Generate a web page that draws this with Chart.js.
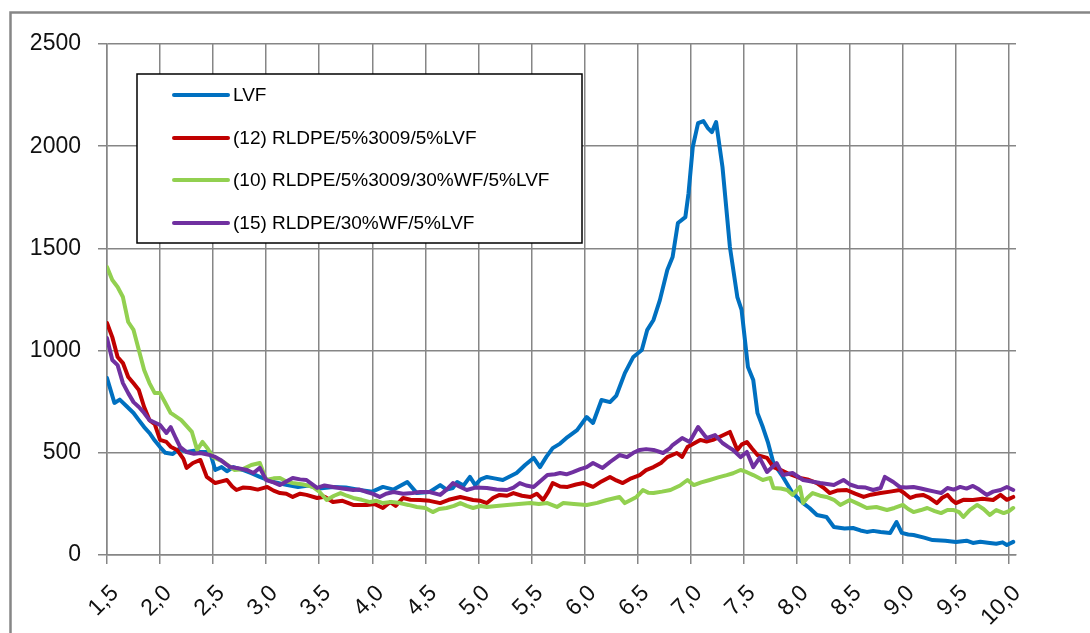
<!DOCTYPE html>
<html>
<head>
<meta charset="utf-8">
<script src="https://cdn.jsdelivr.net/npm/chart.js@4/dist/chart.umd.min.js"></script>
<style>
  html, body { margin: 0; padding: 0; background: #fff; overflow: hidden; }
  #wrap { width: 1090px; height: 633px; position: relative; }
</style>
</head>
<body>
<div id="wrap"><canvas id="c"></canvas></div>
<script>
// Axis ticks
const xTicks = [1.5, 2.0, 2.5, 3.0, 3.5, 4.0, 4.5, 5.0, 5.5, 6.0, 6.5, 7.0, 7.5, 8.0, 8.5, 9.0, 9.5, 10.0];
const yTicks = [0, 500, 1000, 1500, 2000, 2500];

// Series names and colours
const seriesNames = [
  'LVF',
  '(12) RLDPE/5%3009/5%LVF',
  '(10) RLDPE/5%3009/30%WF/5%LVF',
  '(15) RLDPE/30%WF/5%LVF'
];
const seriesColors = ['#0070C0', '#C00000', '#92D050', '#7030A0'];

// Measured curves: [x, value]
const lvf = [
  [1.50,866],[1.57,744],[1.62,760],[1.68,730],[1.75,695],[1.80,660],[1.85,626],[1.90,597],[1.95,560],
  [2.00,528],[2.05,500],[2.12,494],[2.18,520],[2.25,504],[2.32,510],[2.38,504],[2.47,504],[2.52,416],
  [2.58,430],[2.63,410],[2.69,430],[2.78,416],[2.86,400],[2.94,382],[3.00,370],[3.07,357],[3.13,350],
  [3.20,342],[3.30,333],[3.40,340],[3.50,325],[3.63,333],[3.75,330],[3.88,318],[4.00,310],[4.10,333],
  [4.20,320],[4.33,357],[4.42,303],[4.54,308],[4.64,342],[4.70,320],[4.76,328],[4.80,357],[4.86,340],
  [4.92,382],[4.97,342],[5.02,370],[5.08,382],[5.15,375],[5.23,367],[5.30,385],[5.36,401],[5.44,440],
  [5.52,475],[5.58,430],[5.64,480],[5.70,523],[5.77,545],[5.84,577],[5.93,611],[6.02,675],[6.08,646],
  [6.16,758],[6.24,748],[6.30,780],[6.38,890],[6.46,969],[6.54,1003],[6.59,1100],[6.65,1150],[6.71,1247],
  [6.78,1394],[6.83,1458],[6.88,1624],[6.95,1653],[6.98,1770],[7.02,1996],[7.07,2113],[7.12,2123],
  [7.16,2090],[7.20,2069],[7.24,2118],[7.30,1898],[7.37,1507],[7.44,1262],[7.48,1199],[7.54,920],
  [7.59,856],[7.63,694],[7.68,626],[7.73,548],[7.78,450],[7.87,382],[7.96,303],[8.06,254],[8.12,230],
  [8.19,196],[8.28,186],[8.35,137],[8.45,130],[8.53,132],[8.60,120],[8.66,113],[8.72,118],[8.79,113],
  [8.88,108],[8.94,161],[8.99,108],[9.05,100],[9.10,98],[9.20,85],[9.28,73],[9.40,70],[9.50,64],
  [9.60,70],[9.66,59],[9.73,65],[9.80,60],[9.88,55],[9.94,62],[9.98,49],[10.04,64]
];
const rldpe12 = [
  [1.50,1135],[1.55,1066],[1.60,969],[1.65,939],[1.70,871],[1.75,840],[1.80,807],[1.85,724],[1.90,660],
  [1.95,640],[2.00,563],[2.06,553],[2.10,530],[2.16,514],[2.22,470],[2.25,426],[2.31,450],[2.38,465],
  [2.44,382],[2.52,352],[2.58,360],[2.63,367],[2.68,335],[2.72,318],[2.78,330],[2.85,328],[2.92,320],
  [3.01,333],[3.07,315],[3.13,303],[3.19,300],[3.25,284],[3.32,300],[3.38,294],[3.48,279],[3.55,285],
  [3.63,259],[3.72,265],[3.82,245],[3.95,245],[4.02,250],[4.10,230],[4.17,259],[4.22,240],[4.29,279],
  [4.36,270],[4.45,269],[4.54,265],[4.64,254],[4.72,270],[4.83,284],[4.90,275],[4.95,269],[5.02,265],
  [5.08,254],[5.14,280],[5.20,294],[5.27,290],[5.33,303],[5.41,290],[5.49,284],[5.55,300],[5.61,269],
  [5.66,310],[5.70,352],[5.77,335],[5.84,333],[5.92,345],[5.99,352],[6.08,333],[6.16,360],[6.24,382],
  [6.30,365],[6.36,352],[6.44,375],[6.52,391],[6.58,415],[6.65,430],[6.72,450],[6.78,479],[6.87,499],
  [6.92,480],[6.97,528],[7.03,545],[7.09,563],[7.15,555],[7.21,563],[7.28,580],[7.37,602],[7.44,514],
  [7.48,540],[7.53,553],[7.58,520],[7.63,489],[7.72,475],[7.78,430],[7.85,415],[7.91,401],[8.03,377],
  [8.10,370],[8.19,352],[8.25,330],[8.31,303],[8.38,315],[8.47,318],[8.55,300],[8.63,284],[8.70,295],
  [8.79,303],[8.88,310],[8.97,318],[9.02,300],[9.07,279],[9.13,290],[9.19,294],[9.25,280],[9.32,254],
  [9.37,280],[9.42,294],[9.46,270],[9.50,254],[9.57,270],[9.66,269],[9.75,275],[9.85,269],[9.92,294],
  [9.98,270],[10.04,284]
];
const rldpe10 = [
  [1.50,1409],[1.55,1345],[1.60,1311],[1.65,1262],[1.70,1140],[1.75,1101],[1.80,1003],[1.85,905],
  [1.90,841],[1.95,792],[2.00,792],[2.05,744],[2.10,695],[2.20,660],[2.30,602],[2.35,514],[2.40,553],
  [2.45,520],[2.50,479],[2.60,455],[2.70,416],[2.78,420],[2.86,440],[2.94,450],[3.00,367],[3.07,375],
  [3.13,377],[3.19,360],[3.25,352],[3.35,345],[3.44,333],[3.50,310],[3.57,269],[3.64,290],[3.70,303],
  [3.76,290],[3.82,279],[3.90,270],[3.98,259],[4.04,265],[4.10,254],[4.18,260],[4.26,254],[4.34,245],
  [4.42,235],[4.50,230],[4.57,210],[4.63,225],[4.70,230],[4.77,240],[4.83,254],[4.89,240],[4.95,230],
  [5.02,240],[5.08,235],[5.17,240],[5.27,245],[5.38,250],[5.49,254],[5.57,250],[5.65,254],[5.74,235],
  [5.80,254],[5.90,250],[6.02,245],[6.12,255],[6.21,269],[6.33,284],[6.38,254],[6.44,270],[6.49,284],
  [6.55,318],[6.60,305],[6.65,303],[6.73,310],[6.81,318],[6.90,340],[6.97,367],[7.03,342],[7.10,355],
  [7.18,367],[7.26,380],[7.34,391],[7.40,400],[7.47,416],[7.53,405],[7.59,391],[7.68,367],[7.75,377],
  [7.78,328],[7.85,325],[7.91,318],[7.96,294],[8.03,333],[8.06,254],[8.10,280],[8.15,303],[8.22,290],
  [8.28,284],[8.35,270],[8.41,245],[8.50,269],[8.58,250],[8.66,230],[8.75,235],[8.85,220],[8.92,230],
  [9.00,245],[9.05,225],[9.10,210],[9.17,220],[9.23,230],[9.30,215],[9.36,205],[9.42,220],[9.48,220],
  [9.53,210],[9.57,186],[9.63,220],[9.70,245],[9.76,225],[9.82,196],[9.88,220],[9.95,205],[10.00,215],
  [10.04,230]
];
const rldpe15 = [
  [1.50,1061],[1.55,954],[1.60,929],[1.65,841],[1.70,792],[1.75,748],[1.80,724],[1.85,695],[1.90,660],
  [2.00,636],[2.06,597],[2.10,626],[2.15,570],[2.19,528],[2.25,504],[2.32,495],[2.38,499],[2.47,489],
  [2.52,480],[2.57,465],[2.62,445],[2.66,430],[2.72,426],[2.82,416],[2.88,401],[2.94,426],[3.00,367],
  [3.07,355],[3.13,342],[3.19,360],[3.25,377],[3.32,370],[3.38,367],[3.48,328],[3.55,340],[3.63,333],
  [3.72,325],[3.82,318],[3.88,320],[3.95,308],[4.00,300],[4.07,284],[4.13,300],[4.20,308],[4.29,300],
  [4.38,303],[4.45,308],[4.54,308],[4.64,294],[4.70,320],[4.76,352],[4.82,335],[4.89,318],[4.97,330],
  [5.08,328],[5.17,320],[5.27,318],[5.33,330],[5.39,352],[5.45,340],[5.52,333],[5.58,360],[5.65,391],
  [5.72,395],[5.77,401],[5.83,395],[5.89,406],[5.96,420],[6.02,430],[6.08,450],[6.17,426],[6.24,455],
  [6.33,489],[6.40,479],[6.46,500],[6.52,514],[6.58,518],[6.65,514],[6.74,499],[6.80,520],[6.83,538],
  [6.92,572],[6.99,553],[7.03,590],[7.07,626],[7.15,572],[7.23,587],[7.30,548],[7.35,530],[7.40,514],
  [7.47,479],[7.53,504],[7.59,430],[7.65,475],[7.72,406],[7.81,450],[7.87,391],[7.96,401],[8.06,367],
  [8.14,360],[8.22,352],[8.35,342],[8.44,367],[8.50,345],[8.57,333],[8.65,330],[8.72,318],[8.79,328],
  [8.83,382],[8.91,357],[8.97,333],[9.03,330],[9.10,333],[9.17,325],[9.23,318],[9.30,310],[9.36,303],
  [9.42,328],[9.48,320],[9.54,333],[9.60,325],[9.66,338],[9.72,320],[9.79,294],[9.85,310],[9.92,318],
  [9.98,333],[10.04,318]
];

const seriesData = [lvf, rldpe12, rldpe10, rldpe15];

const FONT = '"Liberation Sans", Arial, sans-serif';
const GRID = '#868686';

// Grey frame around the whole chart
const framePlugin = {
  id: 'frame',
  afterDraw(chart) {
    const ctx = chart.ctx;
    ctx.save();
    ctx.strokeStyle = GRID;
    ctx.lineWidth = 2.5;
    ctx.beginPath();
    ctx.moveTo(10.5, 640);
    ctx.lineTo(10.5, 12.5);
    ctx.lineTo(1100, 12.5);
    ctx.stroke();
    ctx.restore();
  }
};

// Boxed legend inside the plot area
const boxLegendPlugin = {
  id: 'boxLegend',
  afterDraw(chart) {
    const ctx = chart.ctx;
    const box = { x: 137, y: 74, w: 445, h: 169 };
    const rows = [95, 138, 180, 223];
    ctx.save();
    ctx.fillStyle = '#ffffff';
    ctx.fillRect(box.x, box.y, box.w, box.h);
    ctx.strokeStyle = '#000000';
    ctx.lineWidth = 1.5;
    ctx.strokeRect(box.x, box.y, box.w, box.h);
    chart.data.datasets.forEach((ds, i) => {
      const y = rows[i];
      ctx.strokeStyle = ds.borderColor;
      ctx.lineWidth = 4;
      ctx.lineCap = 'round';
      ctx.beginPath();
      ctx.moveTo(174, y);
      ctx.lineTo(228, y);
      ctx.stroke();
      ctx.fillStyle = '#000';
      ctx.font = '19px ' + FONT;
      ctx.textBaseline = 'middle';
      ctx.textAlign = 'left';
      ctx.fillText(ds.label, 233, y + 1);
    });
    ctx.restore();
  }
};

const datasets = seriesData.map((pts, i) => ({
  label: seriesNames[i],
  data: pts.map(p => ({ x: p[0], y: p[1] })),
  borderColor: seriesColors[i],
  backgroundColor: seriesColors[i],
  borderWidth: 4,
  pointRadius: 0,
  tension: 0,
  borderJoinStyle: 'round',
  borderCapStyle: 'round',
  order: seriesData.length - 1 - i
}));

new Chart(document.getElementById('c'), {
  type: 'line',
  data: { datasets },
  plugins: [framePlugin, boxLegendPlugin],
  options: {
    responsive: true,
    maintainAspectRatio: false,
    animation: false,
    devicePixelRatio: 1,
    layout: { padding: { top: 44, right: 74, left: 0, bottom: 0 } },
    plugins: { legend: { display: false }, tooltip: { enabled: false } },
    scales: {
      x: {
        type: 'linear',
        min: 1.5,
        max: 10.066,
        afterBuildTicks: s => { s.ticks = xTicks.map(v => ({ value: v })); },
        afterFit: s => { s.height = 78; },
        ticks: {
          autoSkip: false,
          minRotation: 45,
          maxRotation: 45,
          padding: 16,
          labelOffset: 8,
          color: '#111',
          font: { family: FONT, size: 23 },
          callback: v => Number(v).toFixed(1).replace('.', ',')
        },
        grid: { color: GRID, lineWidth: 1.5, tickLength: 9 },
        border: { color: GRID, width: 1.5 }
      },
      y: {
        min: 0,
        max: 2500,
        afterBuildTicks: s => { s.ticks = yTicks.map(v => ({ value: v })); },
        afterFit: s => { s.width = 107; },
        ticks: {
          padding: 17,
          color: '#111',
          font: { family: FONT, size: 23 },
          callback: v => String(v)
        },
        grid: { color: GRID, lineWidth: 1.5, tickLength: 9 },
        border: { color: GRID, width: 1.5 }
      }
    }
  }
});
</script>
</body>
</html>
